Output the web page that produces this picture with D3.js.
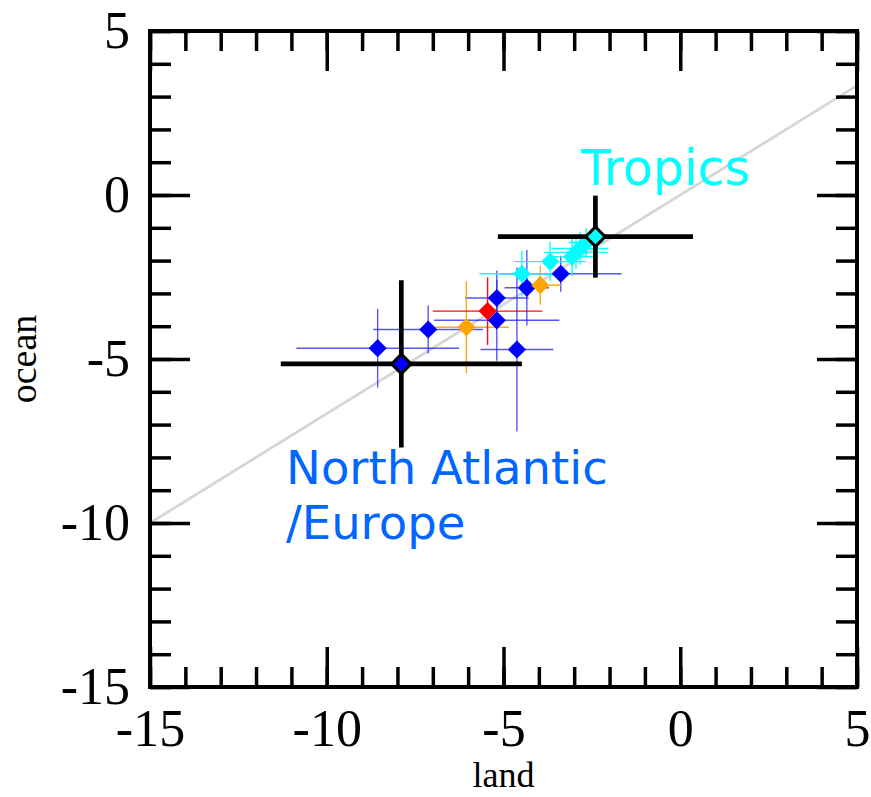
<!DOCTYPE html>
<html>
<head>
<meta charset="utf-8">
<script src="https://cdn.jsdelivr.net/npm/d3@7"></script>
<style>
  html, body { margin: 0; padding: 0; background: #fff; }
  svg { display: block; }
</style>
</head>
<body>
<svg id="chart" width="871" height="797"></svg>
<script>
// ---------- data ----------
const majorTicks = [-15, -10, -5, 0, 5];
const minorTicks = d3.range(-15, 6, 1);

// small points: land (x), ocean (y), errors, group
const ptX    = [-8.56, -7.13, -5.19, -5.19, -4.62, -4.34, -3.38, -6.05, -3.96, -5.45, -4.48, -3.68, -3.06, -2.95, -2.83, -2.66];
const ptY    = [-4.67, -4.10, -3.14, -3.82, -4.71, -2.83, -2.40, -4.03, -2.75, -3.54, -2.40, -2.03, -1.88, -1.75, -1.63, -1.45];
const ptXErr = [ 2.30,  1.55,  0.90,  1.77,  1.03,  0.63,  1.72,  1.20,  0.58,  1.55,  1.20,  1.00,  0.70,  0.90,  0.80,  0.50];
const ptYErr = [ 1.20,  0.73,  0.84,  1.23,  2.50,  1.15,  0.55,  1.40,  0.59,  1.03,  0.70,  0.60,  0.60,  0.50,  0.50,  0.45];
const ptGroup= ["blue","blue","blue","blue","blue","blue","blue","orange","orange","red","cyan","cyan","cyan","cyan","cyan","cyan"];

// regional means (big markers)
const bigX    = [-7.89, -2.40];
const bigY    = [-5.15, -1.27];
const bigXErr = [ 3.41,  2.76];
const bigYErr = [ 2.55,  1.25];
const bigGroup= ["blue", "cyan"];

const lineSlope = 2 / 3;
const regionLabels = [
  { lines: ["Tropics"], color: "#00ffff", lx: -2.8, ly: 0.29, size: 49 },
  { lines: ["North Atlantic", "/Europe"], color: "#0066ff", lx: -11.15, ly: -8.8, size: 46.5 }
];

// ---------- drawing ----------
const colors = { blue: "#0000ff", orange: "#ffa500", red: "#ff0000", cyan: "#00ffff" };
const barColors = { blue: "#2a2aff", orange: "#ffa500", red: "#ff0000", cyan: "#00ffff" };

const svg = d3.select("#chart");
const pL = 150, pR = 857, pT = 31, pB = 687;
const x = d3.scaleLinear().domain([-15, 5]).range([pL, pR]);
const y = d3.scaleLinear().domain([-15, 5]).range([pB, pT]);

// diagonal reference line
svg.append("line")
  .attr("x1", x(-15)).attr("y1", y(lineSlope * -15))
  .attr("x2", x(5)).attr("y2", y(lineSlope * 5))
  .attr("stroke", "#d6d6d6").attr("stroke-width", 2.8);

// small error bars
const pts = ptX.map((d, i) => ({ x: d, y: ptY[i], xe: ptXErr[i], ye: ptYErr[i], g: ptGroup[i] }));
const eb = svg.append("g");
pts.forEach(p => {
  const c = barColors[p.g];
  const op = p.g === "blue" ? 0.8 : 0.95;
  eb.append("line").attr("x1", x(p.x - p.xe)).attr("x2", x(p.x + p.xe))
    .attr("y1", y(p.y)).attr("y2", y(p.y))
    .attr("stroke", c).attr("stroke-width", 1.4).attr("stroke-opacity", op);
  eb.append("line").attr("x1", x(p.x)).attr("x2", x(p.x))
    .attr("y1", y(p.y - p.ye)).attr("y2", y(p.y + p.ye))
    .attr("stroke", c).attr("stroke-width", 1.4).attr("stroke-opacity", op);
});

// small markers
const smallSym = d3.symbol(d3.symbolSquare, 165);
svg.append("g").selectAll("path").data(pts).join("path")
  .attr("d", smallSym)
  .attr("transform", d => `translate(${x(d.x)},${y(d.y)}) rotate(45)`)
  .attr("fill", d => colors[d.g]);

// big error bars
const bigs = bigX.map((d, i) => ({ x: d, y: bigY[i], xe: bigXErr[i], ye: bigYErr[i], g: bigGroup[i] }));
const beb = svg.append("g");
bigs.forEach(p => {
  beb.append("line").attr("x1", x(p.x - p.xe)).attr("x2", x(p.x + p.xe))
    .attr("y1", y(p.y)).attr("y2", y(p.y))
    .attr("stroke", "#000").attr("stroke-width", 4.7);
  beb.append("line").attr("x1", x(p.x)).attr("x2", x(p.x))
    .attr("y1", y(p.y - p.ye)).attr("y2", y(p.y + p.ye))
    .attr("stroke", "#000").attr("stroke-width", 4.7);
});
const bigSym = d3.symbol(d3.symbolSquare, 190);
svg.append("g").selectAll("path").data(bigs).join("path")
  .attr("d", bigSym)
  .attr("transform", d => `translate(${x(d.x)},${y(d.y)}) rotate(45)`)
  .attr("fill", d => colors[d.g])
  .attr("stroke", "#000").attr("stroke-width", 3);

// region labels
regionLabels.forEach(r => {
  const t = svg.append("text")
    .attr("x", x(r.lx)).attr("y", y(r.ly))
    .attr("fill", r.color)
    .style("font-family", "'DejaVu Sans', sans-serif")
    .style("font-size", r.size + "px");
  r.lines.forEach((ln, i) => {
    t.append("tspan").attr("x", x(r.lx)).attr("dy", i === 0 ? 0 : 55).text(ln);
  });
});

// axes
const fmt = d => String(d);
function styleAxis(g) {
  g.select(".domain").remove();
  g.selectAll(".tick line").attr("stroke", "#000").attr("stroke-width", 3.5);
  g.selectAll(".tick text").attr("fill", "#000")
    .style("font-family", "'Liberation Serif', 'Times New Roman', serif")
    .style("font-size", "52px");
}
// minor ticks on all four sides
svg.append("g").attr("transform", `translate(0,${pB})`)
  .call(d3.axisBottom(x).tickValues(minorTicks).tickSizeInner(-20).tickSizeOuter(0).tickFormat("")).call(styleAxis);
svg.append("g").attr("transform", `translate(0,${pT})`)
  .call(d3.axisTop(x).tickValues(minorTicks).tickSizeInner(-20).tickSizeOuter(0).tickFormat("")).call(styleAxis);
svg.append("g").attr("transform", `translate(${pL},0)`)
  .call(d3.axisLeft(y).tickValues(minorTicks).tickSizeInner(-21).tickSizeOuter(0).tickFormat("")).call(styleAxis);
svg.append("g").attr("transform", `translate(${pR},0)`)
  .call(d3.axisRight(y).tickValues(minorTicks).tickSizeInner(-21).tickSizeOuter(0).tickFormat("")).call(styleAxis);
// major ticks
svg.append("g").attr("transform", `translate(0,${pB})`)
  .call(d3.axisBottom(x).tickValues(majorTicks).tickSizeInner(-40).tickSizeOuter(0).tickPadding(22).tickFormat(fmt)).call(styleAxis);
svg.append("g").attr("transform", `translate(0,${pT})`)
  .call(d3.axisTop(x).tickValues(majorTicks).tickSizeInner(-40).tickSizeOuter(0).tickFormat("")).call(styleAxis);
svg.append("g").attr("transform", `translate(${pL},0)`)
  .call(d3.axisLeft(y).tickValues(majorTicks).tickSizeInner(-40).tickSizeOuter(0).tickPadding(20).tickFormat(fmt)).call(styleAxis);
svg.append("g").attr("transform", `translate(${pR},0)`)
  .call(d3.axisRight(y).tickValues(majorTicks).tickSizeInner(-40).tickSizeOuter(0).tickFormat("")).call(styleAxis);

// frame
svg.append("rect").attr("x", pL).attr("y", pT)
  .attr("width", pR - pL).attr("height", pB - pT)
  .attr("fill", "none").attr("stroke", "#000").attr("stroke-width", 4);

// axis titles
svg.append("text").attr("x", (pL + pR) / 2).attr("y", 787)
  .attr("text-anchor", "middle")
  .style("font-family", "'Liberation Serif', serif").style("font-size", "36px")
  .text("land");
svg.append("text")
  .attr("transform", `translate(36,${(pT + pB) / 2}) rotate(-90)`)
  .attr("text-anchor", "middle")
  .style("font-family", "'Liberation Serif', serif").style("font-size", "38px")
  .text("ocean");
</script>
</body>
</html>
